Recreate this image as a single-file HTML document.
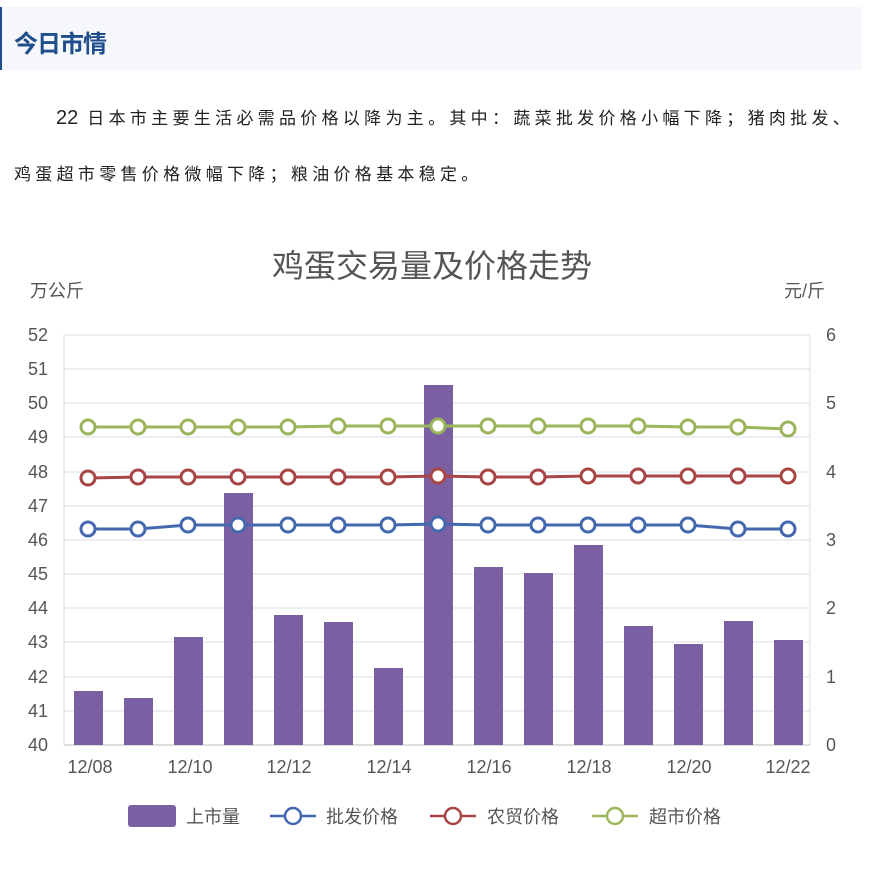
<!DOCTYPE html>
<html><head><meta charset="utf-8"><style>
body{margin:0;width:872px;height:869px;background:#fff;overflow:hidden;font-family:"Liberation Sans","Noto Sans CJK SC",sans-serif;}
.hdr{position:absolute;left:0;top:7px;width:860px;height:63px;background:#f5f7fb;border-left:2px solid #1f4e8c;}
.hdr span{position:absolute;left:12px;top:17px;font-size:24px;font-weight:bold;color:#1f4e8c;letter-spacing:-1px;}
.p{position:absolute;left:14px;font-size:17px;color:#222;letter-spacing:4.3px;white-space:nowrap;}
</style></head><body>
<div class="hdr"><span>今日市情</span></div>
<div class="p" style="top:104px;left:56px;"><span style="font-size:20px;letter-spacing:0">22</span> 日本市主要生活必需品价格以降为主。其中：蔬菜批发价格小幅下降；猪肉批发、</div>
<div class="p" style="top:160px;">鸡蛋超市零售价格微幅下降；粮油价格基本稳定。</div>
<svg style="position:absolute;left:0;top:0" width="872" height="869" font-family="Liberation Sans,Noto Sans CJK SC,sans-serif">
<text x="432" y="277" font-size="32" fill="#555" text-anchor="middle">鸡蛋交易量及价格走势</text>
<text x="30" y="297" font-size="18" fill="#555">万公斤</text>
<text x="784" y="297" font-size="18" fill="#555">元/斤</text>
<g stroke="#d8dde8" stroke-width="1">
<line x1="64" x2="810" y1="335" y2="335"/><line x1="64" x2="810" y1="369" y2="369"/><line x1="64" x2="810" y1="403" y2="403"/><line x1="64" x2="810" y1="437" y2="437"/><line x1="64" x2="810" y1="472" y2="472"/><line x1="64" x2="810" y1="506" y2="506"/><line x1="64" x2="810" y1="540" y2="540"/><line x1="64" x2="810" y1="574" y2="574"/><line x1="64" x2="810" y1="608" y2="608"/><line x1="64" x2="810" y1="642" y2="642"/><line x1="64" x2="810" y1="677" y2="677"/><line x1="64" x2="810" y1="711" y2="711"/>
<line x1="64" x2="64" y1="335" y2="745"/><line x1="810" x2="810" y1="335" y2="745"/>
</g>
<line x1="64" x2="810" y1="745" y2="745" stroke="#bbb"/>
<g font-size="18" fill="#555" text-anchor="end">
<text x="48" y="341">52</text><text x="48" y="375">51</text><text x="48" y="409">50</text><text x="48" y="443">49</text><text x="48" y="478">48</text><text x="48" y="512">47</text><text x="48" y="546">46</text><text x="48" y="580">45</text><text x="48" y="614">44</text><text x="48" y="648">43</text><text x="48" y="683">42</text><text x="48" y="717">41</text><text x="48" y="751">40</text>
</g>
<g font-size="18" fill="#555">
<text x="826" y="341">6</text><text x="826" y="409">5</text><text x="826" y="478">4</text><text x="826" y="546">3</text><text x="826" y="614">2</text><text x="826" y="683">1</text><text x="826" y="751">0</text>
</g>
<g font-size="18" fill="#555" text-anchor="middle">
<text x="90" y="773">12/08</text><text x="190" y="773">12/10</text><text x="289" y="773">12/12</text><text x="389" y="773">12/14</text><text x="489" y="773">12/16</text><text x="589" y="773">12/18</text><text x="689" y="773">12/20</text><text x="788" y="773">12/22</text>
</g>
<g fill="#7b5fa3">
<rect x="74" y="691" width="29" height="54"/><rect x="124" y="698" width="29" height="47"/><rect x="174" y="637" width="29" height="108"/><rect x="224" y="493" width="29" height="252"/><rect x="274" y="615" width="29" height="130"/><rect x="324" y="622" width="29" height="123"/><rect x="374" y="668" width="29" height="77"/><rect x="424" y="385" width="29" height="360"/><rect x="474" y="567" width="29" height="178"/><rect x="524" y="573" width="29" height="172"/><rect x="574" y="545" width="29" height="200"/><rect x="624" y="626" width="29" height="119"/><rect x="674" y="644" width="29" height="101"/><rect x="724" y="621" width="29" height="124"/><rect x="774" y="640" width="29" height="105"/>
</g>
<g fill="#fff" stroke-width="3">
<polyline fill="none" stroke="#9bb55a" points="88,427 138,427 188,427 238,427 288,427 338,426 388,426 438,426 488,426 538,426 588,426 638,426 688,427 738,427 788,429"/>
<g stroke="#9bb55a"><circle cx="88" cy="427" r="7"/><circle cx="138" cy="427" r="7"/><circle cx="188" cy="427" r="7"/><circle cx="238" cy="427" r="7"/><circle cx="288" cy="427" r="7"/><circle cx="338" cy="426" r="7"/><circle cx="388" cy="426" r="7"/><circle cx="438" cy="426" r="7"/><circle cx="488" cy="426" r="7"/><circle cx="538" cy="426" r="7"/><circle cx="588" cy="426" r="7"/><circle cx="638" cy="426" r="7"/><circle cx="688" cy="427" r="7"/><circle cx="738" cy="427" r="7"/><circle cx="788" cy="429" r="7"/></g>
<polyline fill="none" stroke="#a94545" points="88,478 138,477 188,477 238,477 288,477 338,477 388,477 438,476 488,477 538,477 588,476 638,476 688,476 738,476 788,476"/>
<g stroke="#a94545"><circle cx="88" cy="478" r="7"/><circle cx="138" cy="477" r="7"/><circle cx="188" cy="477" r="7"/><circle cx="238" cy="477" r="7"/><circle cx="288" cy="477" r="7"/><circle cx="338" cy="477" r="7"/><circle cx="388" cy="477" r="7"/><circle cx="438" cy="476" r="7"/><circle cx="488" cy="477" r="7"/><circle cx="538" cy="477" r="7"/><circle cx="588" cy="476" r="7"/><circle cx="638" cy="476" r="7"/><circle cx="688" cy="476" r="7"/><circle cx="738" cy="476" r="7"/><circle cx="788" cy="476" r="7"/></g>
<polyline fill="none" stroke="#4468b0" points="88,529 138,529 188,525 238,525 288,525 338,525 388,525 438,524 488,525 538,525 588,525 638,525 688,525 738,529 788,529"/>
<g stroke="#4468b0"><circle cx="88" cy="529" r="7"/><circle cx="138" cy="529" r="7"/><circle cx="188" cy="525" r="7"/><circle cx="238" cy="525" r="7"/><circle cx="288" cy="525" r="7"/><circle cx="338" cy="525" r="7"/><circle cx="388" cy="525" r="7"/><circle cx="438" cy="524" r="7"/><circle cx="488" cy="525" r="7"/><circle cx="538" cy="525" r="7"/><circle cx="588" cy="525" r="7"/><circle cx="638" cy="525" r="7"/><circle cx="688" cy="525" r="7"/><circle cx="738" cy="529" r="7"/><circle cx="788" cy="529" r="7"/></g>
</g>
<g font-size="18" fill="#555">
<rect x="128" y="805" width="48" height="22" rx="3" fill="#7b5fa3"/><text x="186" y="823">上市量</text>
<line x1="270" x2="316" y1="816" y2="816" stroke="#4468b0" stroke-width="2.5"/><circle cx="293" cy="816" r="8" fill="#fff" stroke="#4468b0" stroke-width="2.5"/><text x="326" y="823">批发价格</text>
<line x1="430" x2="476" y1="816" y2="816" stroke="#a94545" stroke-width="2.5"/><circle cx="453" cy="816" r="8" fill="#fff" stroke="#a94545" stroke-width="2.5"/><text x="487" y="823">农贸价格</text>
<line x1="592" x2="638" y1="816" y2="816" stroke="#9bb55a" stroke-width="2.5"/><circle cx="615" cy="816" r="8" fill="#fff" stroke="#9bb55a" stroke-width="2.5"/><text x="649" y="823">超市价格</text>
</g>
</svg>
</body></html>
